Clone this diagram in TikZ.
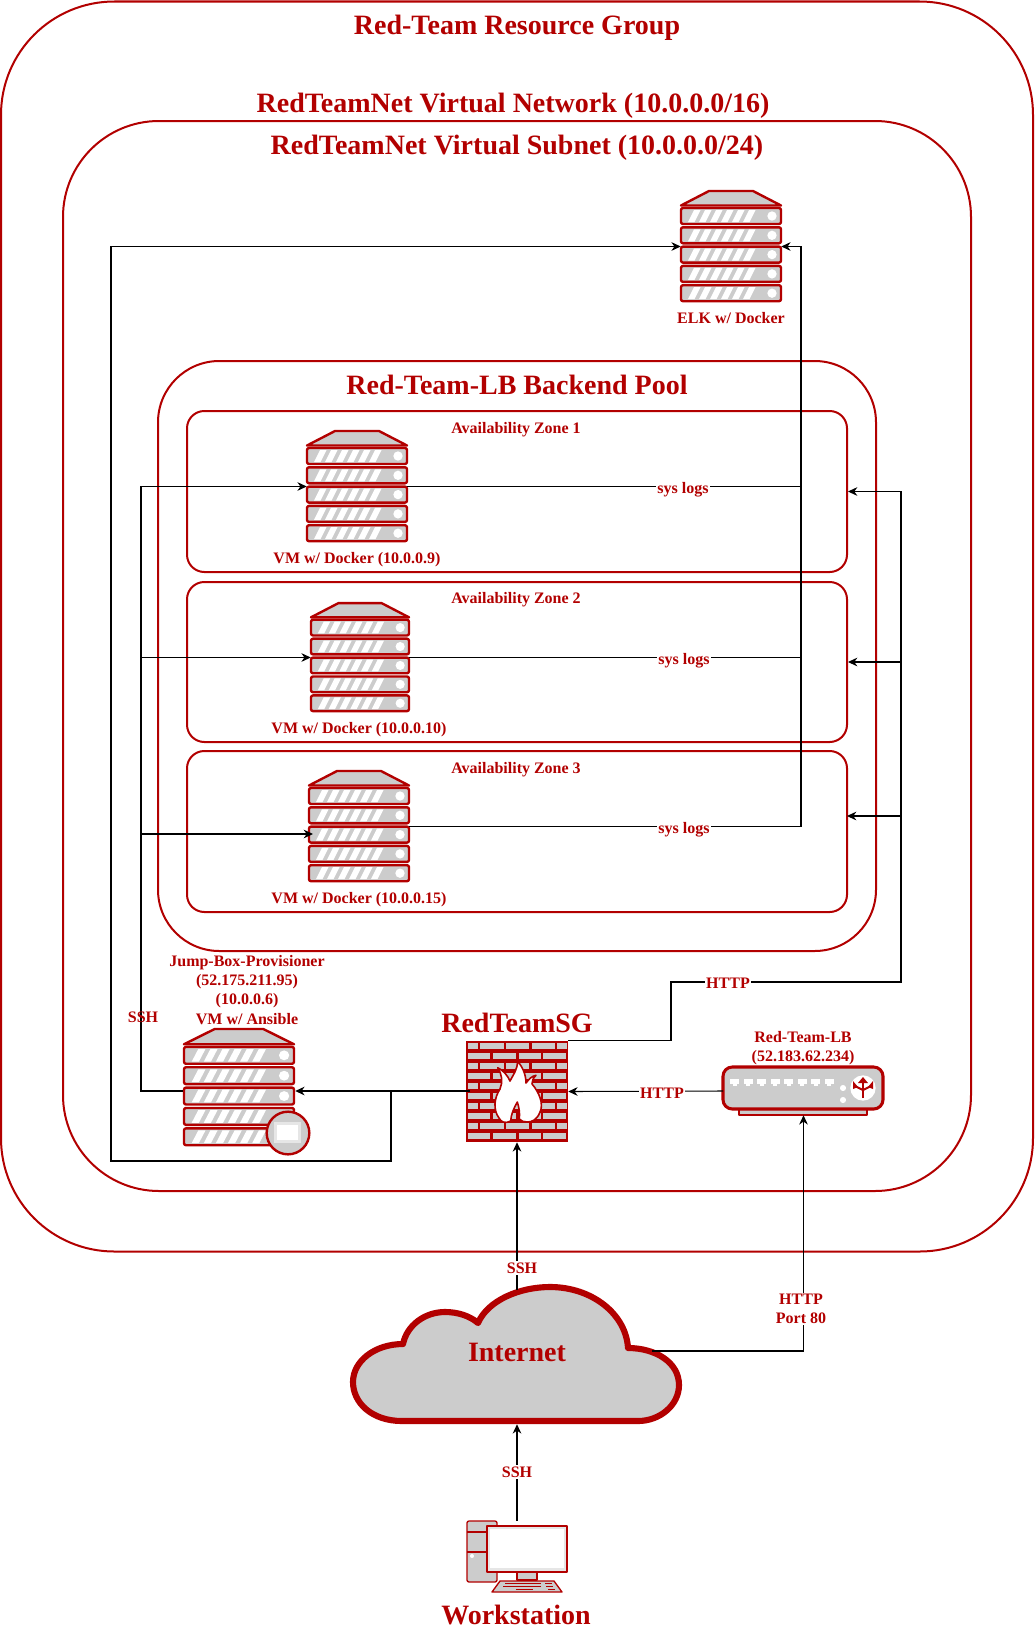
\documentclass[tikz,border=0pt]{standalone}
\usepackage{fontspec}
\setmainfont{Liberation Serif}
\usetikzlibrary{arrows.meta}
\definecolor{teamred}{HTML}{B20000}
\definecolor{rackgray}{HTML}{CCCCCC}
\definecolor{screenedge}{HTML}{E6E6E6}
\tikzset{
	box/.style n args={2}{minimum width=#1*0.75pt,minimum height=#2*0.75pt,inner sep=0pt},
	region/.style={draw=teamred,line width=1.5pt},
	icon/.style={draw=teamred,fill=rackgray,line width=1.8pt,line join=round},
	link/.style={-{Stealth[length=7pt,width=6.5pt]},line width=0.8pt,black},
	wire/.style={line width=0.8pt,black},
	big/.style={text=teamred,font=\fontsize{21}{24}\selectfont\bfseries},
	small/.style={text=teamred,font=\fontsize{12}{14.3}\selectfont\bfseries,align=center},
	tag/.style={small,fill=white,inner sep=1pt},
	rack/.pic={
		\path[icon] (-22,-55.5) -- (22,-55.5) -- (50,-41) -- (-50,-41) -- cycle;
		\foreach \r in {0,1,2,3,4}{
			\path[icon,rounded corners=1.5pt] (-50,-38.5+19.3*\r) rectangle (50,-22.5+19.3*\r);
			\foreach \k in {0,1,2,3,4,5}{
				\fill[white] (-43+11*\k,-24.5+19.3*\r) -- (-37+11*\k,-36.5+19.3*\r) -- (-30.5+11*\k,-36.5+19.3*\r) -- (-36.5+11*\k,-24.5+19.3*\r) -- cycle;
			}
			\fill[white] (41,-30.5+19.3*\r) circle (3.5pt);
		}
	}
}
\begin{document}
\begin{tikzpicture}[x=0.75pt,y=-0.75pt]
	\useasboundingbox (0,0) rectangle (1035,1631);

	\node[region,box={1032}{1250},rounded corners=85pt] (group) at (517,626.5) {};
	\node[region,box={908}{1070},rounded corners=72pt] (subnet) at (517,656) {};
	\node[region,box={718}{590},rounded corners=46pt] (pool) at (517,656) {};
	\node[region,box={660}{161},rounded corners=13pt] (zone1) at (517,491.5) {};
	\node[region,box={660}{160},rounded corners=13pt] (zone2) at (517,662) {};
	\node[region,box={660}{161},rounded corners=13pt] (zone3) at (517,831.5) {};

	\node[big] (grouptitle) at (517,28) {Red-Team Resource Group};
	\node[big] (nettitle) at (513,106) {RedTeamNet Virtual Network (10.0.0.0/16)};
	\node[big] (subnettitle) at (517,148) {RedTeamNet Virtual Subnet (10.0.0.0/24)};
	\node[big] (pooltitle) at (517,385) {Red-Team-LB Backend Pool};
	\node[small] (zone1title) at (516,430) {Availability Zone 1};
	\node[small] (zone2title) at (516,600) {Availability Zone 2};
	\node[small] (zone3title) at (516,770) {Availability Zone 3};

	\node[box={100}{111}] (elk) at (731,246.5) {};
	\pic at (elk) {rack};
	\node[small] (elklabel) at (731,318) {ELK w/ Docker};

	\node[box={100}{111}] (vm1) at (357,486.5) {};
	\pic at (vm1) {rack};
	\node[small] (vm1label) at (357,560) {VM w/ Docker (10.0.0.9)};

	\node[box={98}{109}] (vm2) at (360,657.5) {};
	\pic[xscale=0.98,yscale=0.98] at (vm2) {rack};
	\node[small] (vm2label) at (359,730) {VM w/ Docker (10.0.0.10)};

	\node[box={100}{111}] (vm3) at (359,826.5) {};
	\pic at (vm3) {rack};
	\node[small] (vm3label) at (359,900) {VM w/ Docker (10.0.0.15)};

	\node[box={112}{124}] (jb) at (239,1091) {};
	\pic[xscale=1.1,yscale=1.055] at (239,1087.5) {rack};
	\path[icon] (288,1133) circle (16pt);
	\fill[screenedge] (274,1122) rectangle (301,1143);
	\fill[white] (277,1125) rectangle (298,1140);
	\node[small] (jblabel) at (247,990) {Jump-Box-Provisioner\\(52.175.211.95)\\(10.0.0.6)\\VM w/ Ansible};

	\node[box={102}{101},fill=teamred] (fw) at (517,1091.5) {};
	\foreach \r in {0,2,4,6,8}{
		\foreach \a/\b in {1.7/11.7,14.3/37.7,40/63,65.7/88.7,91/100.5}{
			\fill[rackgray] (466+\a,1042.5+10*\r) rectangle (466+\b,1049+10*\r);
		}
		\foreach \a/\b in {1.7/24.3,27/50.3,52.7/75,77.3/100.3}{
			\fill[rackgray] (466+\a,1052.5+10*\r) rectangle (466+\b,1059+10*\r);
		}
	}
	\draw[teamred,fill=white,line width=1.2pt,line join=round] (517.3,1102) .. controls (514,1108) and (511,1114) .. (510.7,1121)
		.. controls (505,1124) and (501,1122) .. (499,1118) .. controls (493,1110) and (494,1098) .. (500,1089)
		.. controls (503,1082) and (502,1074) .. (497.7,1067.7) .. controls (503,1070) and (508,1076) .. (510,1081)
		.. controls (513,1075) and (518,1069) .. (517.3,1061) .. controls (522,1066) and (526,1074) .. (526,1083)
		.. controls (529,1079) and (532,1076) .. (536,1075.3) .. controls (533,1078) and (532,1081) .. (532,1084)
		.. controls (539,1092) and (544,1104) .. (540,1112) .. controls (537,1120) and (532,1122) .. (527,1122)
		.. controls (524,1122) and (521,1121) .. (519.3,1119) .. controls (520,1113) and (519,1107) .. (517.3,1102) -- cycle;
	\node[big] (fwlabel) at (517,1023) {RedTeamSG};

	\node[box={160}{48}] (lb) at (803.5,1091) {};
	\path[icon] (739,1109) rectangle (867,1115);
	\path[icon,line width=2.3pt,rounded corners=7pt] (723,1067) rectangle (883,1109);
	\foreach \i in {0,...,7}{
		\fill[white] (730+13.5*\i,1079) rectangle (739+13.5*\i,1084);
		\fill[white] (732.5+13.5*\i,1084) rectangle (736.5+13.5*\i,1086);
	}
	\fill[white] (843,1088) circle (2.3pt);
	\fill[white] (843,1100) circle (2.3pt);
	\fill[white] (863,1088) circle (9.5pt);
	\draw[teamred,line width=2pt] (863,1098) -- (863,1083);
	\draw[teamred,line width=1.5pt] (863,1090) -- (855,1086);
	\draw[teamred,line width=1.5pt] (863,1090) -- (871,1086);
	\fill[teamred] (863,1077) -- (858,1083) -- (868,1083) -- cycle;
	\fill[teamred] (853,1081) -- (853,1089) -- (858,1087) -- cycle;
	\fill[teamred] (873,1081) -- (873,1089) -- (868,1087) -- cycle;
	\node[small] (lblabel) at (803,1048) {Red-Team-LB\\(52.183.62.234)};

	\node[box={327}{145}] (internet) at (517,1351.5) {};
	\path[draw=teamred,fill=rackgray,line width=4.6pt,line join=round] (402,1421)
		.. controls (372,1421) and (353,1403) .. (353,1382)
		.. controls (353,1361) and (375,1344) .. (403,1344)
		.. controls (407,1325) and (425,1312) .. (445,1312)
		.. controls (458,1312) and (470,1316) .. (478,1323)
		.. controls (488,1300) and (520,1287) .. (550,1287)
		.. controls (592,1287) and (626,1314) .. (628,1348)
		.. controls (655,1348) and (679,1362) .. (679,1385)
		.. controls (679,1405) and (660,1421) .. (638,1421) -- cycle;
	\node[big] (internetlabel) at (517,1352) {Internet};

	\node[box={100}{71}] (ws) at (517,1556.5) {};
	\path[icon,line width=1pt,rounded corners=1.5pt] (467,1521) rectangle (497,1582);
	\draw[teamred,line width=1pt] (467,1532) -- (497,1532);
	\draw[teamred,line width=1pt] (467,1552) -- (497,1552);
	\fill[white] (472,1556) circle (1.5pt);
	\path[icon,line width=1pt] (517,1572) rectangle (537,1580);
	\path[icon,line width=1pt,fill=screenedge] (487,1526) rectangle (567,1572);
	\fill[white] (490,1529) rectangle (564,1568);
	\path[icon,line width=1pt] (500,1581) -- (554,1581) -- (562,1592) -- (492,1592) -- cycle;
	\foreach \y/\a/\b/\c/\d in {1583.5/505/541/545/552,1586.5/503/541/546/553,1589.5/516/533/548/555}{
		\draw[teamred,line width=1.2pt] (\a,\y) -- (\b,\y);
		\draw[teamred,line width=1.2pt] (\c,\y) -- (\d,\y);
	}
	\node[big] (wslabel) at (516,1615) {Workstation};

	\coordinate (trunk) at (141,486.5);
	\coordinate (vm3in) at (313,834);
	\coordinate (fwout) at (470,1091);
	\coordinate (elkturn) at (391,1161);
	\coordinate (elkrun) at (111,246.5);
	\coordinate (logrun) at (801,246.5);
	\coordinate (httpa) at (671,982);
	\coordinate (httpb) at (901,491.5);
	\coordinate (z3in) at (847,816);
	\coordinate (cloudtop) at (517,1290);
	\coordinate (cloudout) at (652,1351);

	\draw[link] (jb.west) -| (trunk) -- (vm1.west);
	\draw[link] (trunk |- vm2.west) -- (vm2.west);
	\draw[link] (trunk |- vm3in) -- (vm3in);
	\draw[link] (fwout) -- (jb.east);
	\draw[link] (elkturn |- fw.west) -- (elkturn) -| (elkrun) -- (elk.west);
	\draw[link] (vm1.east) -| (logrun) -- (elk.east);
	\draw[wire] (vm2.east) -| (logrun);
	\draw[wire] (vm3.east) -| (logrun);
	\draw[link] (fw.north east) -| (httpa) -| (httpb) -- (zone1.east);
	\draw[link] (httpb |- zone2.east) -- (zone2.east);
	\draw[link] (httpb |- z3in) -- (z3in);
	\draw[link] (lb.west) -- (fw.east);
	\draw[link] (cloudtop) -- (fw.south);
	\draw[link] (cloudout) -| (lb.south);
	\draw[link] (ws.north) -- (internet.south);

	\node[tag] (log1) at (683,490) {sys logs};
	\node[tag] (log2) at (684,661) {sys logs};
	\node[tag] (log3) at (684,830) {sys logs};
	\node[tag] (http1) at (728,983) {HTTP};
	\node[tag] (http2) at (662,1093) {HTTP};
	\node[tag] (http3) at (801,1309) {HTTP\\Port 80};
	\node[tag] (ssh1) at (522,1268) {SSH};
	\node[tag] (ssh2) at (517,1472) {SSH};
	\node[small] (ssh3) at (143,1017) {SSH};
\end{tikzpicture}
\end{document}
